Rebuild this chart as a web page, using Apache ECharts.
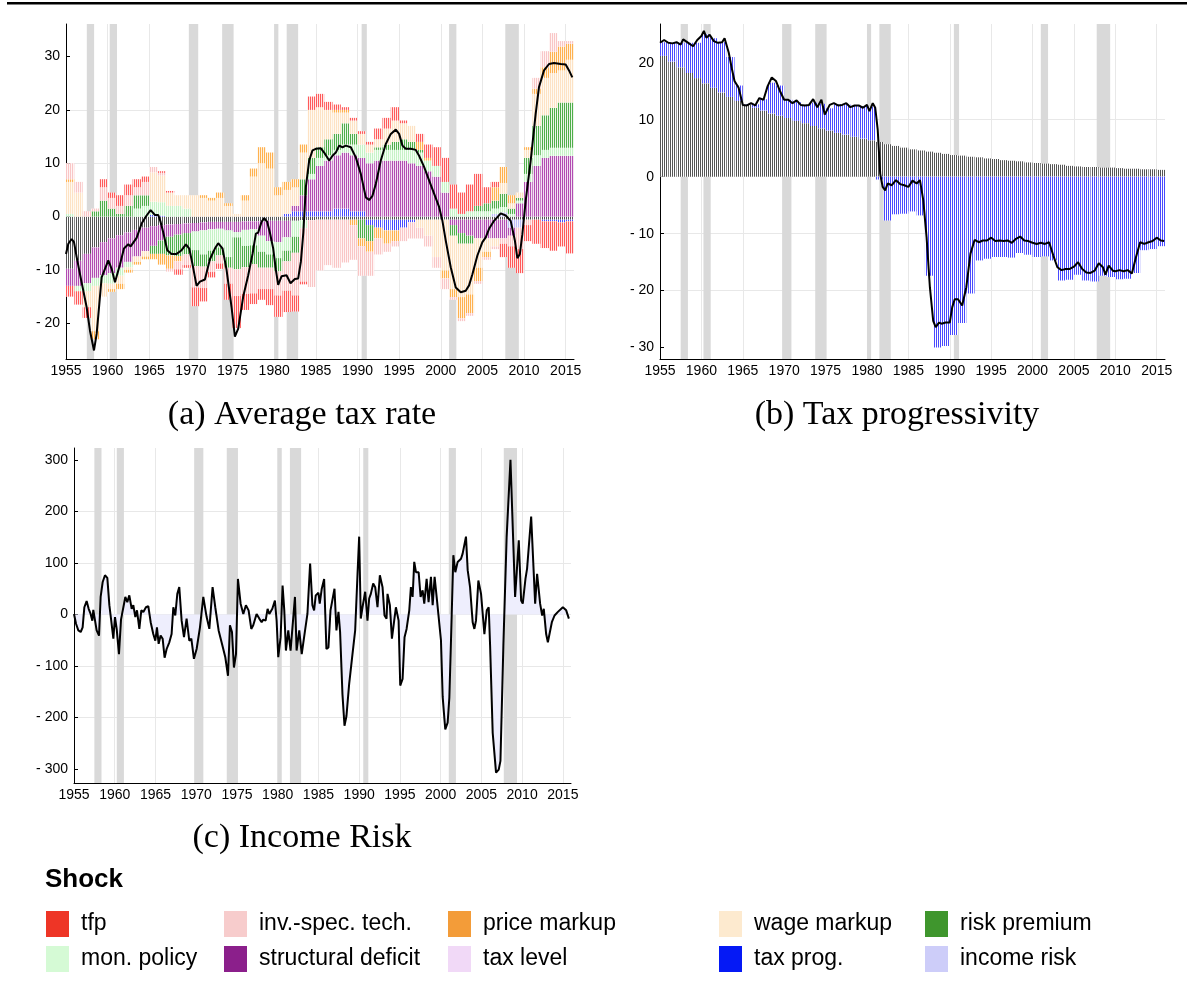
<!DOCTYPE html>
<html>
<head>
<meta charset="utf-8">
<script src="https://cdn.jsdelivr.net/npm/echarts@6/dist/echarts.min.js"></script>
<style>
  html, body { margin: 0; padding: 0; background: #fff; }
  #main { width: 1187px; height: 994px; }
</style>
</head>
<body>
<div id="main"></div>
<script>
// annual bars (one per year, 1955..2015)
var barYears = [1955, 1956, 1957, 1958, 1959, 1960, 1961, 1962, 1963, 1964,
  1965, 1966, 1967, 1968, 1969, 1970, 1971, 1972, 1973, 1974,
  1975, 1976, 1977, 1978, 1979, 1980, 1981, 1982, 1983, 1984,
  1985, 1986, 1987, 1988, 1989, 1990, 1991, 1992, 1993, 1994,
  1995, 1996, 1997, 1998, 1999, 2000, 2001, 2002, 2003, 2004,
  2005, 2006, 2007, 2008, 2009, 2010, 2011, 2012, 2013, 2014, 2015];

// NBER recessions (shaded)
var recessions = [[1957.5, 1958.375], [1960.25, 1961.125], [1969.75, 1970.875],
  [1973.75, 1975.125], [1980.0, 1980.5], [1981.5, 1982.875], [1990.5, 1991.125],
  [2001.0, 2001.875], [2007.75, 2009.375]];

var xTicks = [1955, 1960, 1965, 1970, 1975, 1980, 1985, 1990, 1995, 2000, 2005, 2010, 2015];

// ---------- (a) Average tax rate ----------
var rateYears = [1955.0, 1955.28, 1955.68, 1955.96, 1956.28, 1956.68, 1957.08, 1957.48, 1957.88, 1958.36,
  1958.68, 1959.0, 1959.28, 1959.68, 1960.08, 1960.48, 1960.88, 1961.0, 1961.48, 1961.96,
  1962.48, 1962.76, 1963.48, 1964.08, 1964.68, 1965.16, 1965.68, 1966.08, 1966.36, 1966.68,
  1967.16, 1967.68, 1968.28, 1968.88, 1969.4, 1969.8, 1970.2, 1970.68, 1971.08, 1971.68,
  1972.28, 1972.88, 1973.28, 1973.8, 1974.28, 1974.88, 1975.28, 1975.68, 1976.28, 1976.88,
  1977.4, 1977.8, 1978.08, 1978.48, 1978.8, 1979.16, 1979.48, 1979.88, 1980.2, 1980.48,
  1980.88, 1981.48, 1981.96, 1982.48, 1982.88, 1983.2, 1983.5, 1983.8, 1984.2, 1984.6,
  1985.0, 1985.6, 1986.0, 1986.6, 1987.0, 1987.4, 1987.8, 1988.2, 1988.6, 1989.2,
  1989.8, 1990.4, 1991.0, 1991.4, 1991.8, 1992.2, 1992.8, 1993.4, 1994.0, 1994.6,
  1995.0, 1995.4, 1995.8, 1996.4, 1997.0, 1997.4, 1998.0, 1998.6, 1999.2, 1999.8,
  2000.2, 2000.6, 2001.2, 2001.8, 2002.4, 2003.0, 2003.4, 2003.8, 2004.4, 2005.0,
  2005.4, 2005.8, 2006.4, 2007.2, 2007.8, 2008.4, 2008.9, 2009.2, 2009.5, 2009.8,
  2010.2, 2010.8, 2011.4, 2011.8, 2012.4, 2013.0, 2013.6, 2014.4, 2015.0, 2015.4, 2015.8];
var rateTotal = [-7.0, -5.1, -4.2, -4.8, -7.6, -10.8, -13.9, -17.0, -21.4, -25.1,
  -22.0, -16.4, -11.4, -9.8, -8.2, -9.8, -12.3, -12.5, -9.0, -6.0,
  -5.2, -5.6, -4.0, -1.3, 0.2, 1.2, 0.3, 0.3, -1.0, -3.0,
  -6.3, -7.0, -7.0, -6.3, -5.2, -6.0, -9.0, -13.0, -12.2, -11.8,
  -8.0, -6.0, -5.0, -6.0, -10.0, -17.0, -22.5, -21.0, -15.0, -11.0,
  -7.0, -3.2, -3.0, -1.0, -0.3, -1.0, -3.0, -6.0, -10.0, -12.8,
  -11.2, -11.0, -12.5, -11.7, -11.6, -8.5, -3.0, 5.5, 10.5, 12.4,
  12.7, 12.8, 12.0, 10.5, 11.4, 12.0, 13.3, 13.0, 13.3, 13.0,
  11.1, 8.0, 3.6, 3.1, 3.9, 6.1, 10.5, 13.6, 15.5, 16.3,
  15.5, 13.3, 12.7, 12.7, 12.5, 11.4, 9.3, 6.8, 4.3, 1.8,
  -0.8, -4.5, -9.5, -13.3, -14.2, -13.9, -12.9, -10.8, -7.3, -4.8,
  -3.9, -2.3, -0.8, 0.6, 0.2, -0.8, -4.5, -7.8, -7.0, -3.3,
  3.0, 10.5, 19.3, 24.3, 27.4, 28.6, 28.8, 28.6, 28.5, 27.4, 26.1];

var rateInit = [-9.8, -8.3, -7.0, -5.8, -4.8, -4.1, -3.5, -3.0, -2.5, -2.1,
  -1.8, -1.6, -1.5, -1.4, -1.3, -1.2, -1.1, -1.0, -1.0, -1.0,
  -1.0, -0.9, -0.9, -0.9, -0.8, -0.8, -0.8, -0.8, -0.7, -0.7,
  -0.6, -0.6, -0.6, -0.6, -0.6, -0.6, -0.6, -0.6, -0.6, -0.6,
  -0.6, -0.6, -0.6, -0.6, -0.6, -0.6, -0.6, -0.6, -0.6, -0.6,
  -0.6, -0.6, -0.6, -0.6, -0.6, -0.6, -0.6, -0.6, -0.6, -0.6, -0.6];
var rateIncomeRisk = [0, 0, 0, 0, 0, 0, 0, 0, 0, 0,
  0, 0, 0, 0, 0, 0, 0, 0, 0, 0,
  0, 0, 0, 0, 0, 0, 0, 0, 0, 0,
  0, 0, 0, 0, 0, 0, 0, 0, 0, 0,
  0, 0, 0, 0, 0, 0, 0, 0, 0, 0,
  0, 0.5, 0.8, -1.5, -1.5, 0, 0, 0, 0, 0, 0];
var rateTaxProg = [0, 0, 0, 0, 0, 0, 0, 0, 0, 0,
  0.3, 0.2, 0, 0, 0, 0, 0, 0, 0, 0,
  0, 0, 0, 0, 0, 0, 0.5, 1.0, 1.0, 1.0,
  1.0, 1.0, 1.5, 1.5, 1.0, 1.0, -1.0, -1.5, -2.0, -2.0,
  -1.5, -0.5, 0, 0, 0, 0, 0, 0, 0, 0,
  0, 0, 0, 0, 0, 0, 0, -0.3, -0.3, -0.5, -0.3];
var rateDeficit = [-3.2, -4.7, -5.5, -5.7, -6.2, -6.5, -6.1, -5.5, -5.0, -4.4,
  -3.7, -2.9, -2.3, -2.0, -1.8, -1.6, -1.5, -1.4, -1.3, -1.6,
  -1.9, -1.6, -1.5, -2.7, -3.8, -4.0, -3.1, 1.0, 3.0, 6.0,
  8.5, 9.5, 10.0, 10.5, 10.5, 10.0, 10.0, 10.5, 10.5, 10.5,
  10.5, 10.0, 9.5, 8.5, 7.5, 4.5, -1.0, -2.5, -3.0, -3.5,
  -3.5, -3.5, -3.5, -1.5, 2.5, 6.5, 9.5, 11.0, 11.4, 11.4, 11.4];
var rateMonPolicy = [0.5, -1.0, -1.5, -1.5, -1.5, -2.0, -1.5, -1.0, 1.5, 2.0,
  2.5, 2.5, 2.0, 2.0, 1.5, -3.5, -4.5, -4.0, -3.5, -5.0,
  -1.0, -3.0, -3.0, -3.0, -2.5, -3.0, -2.5, -3.0, -1.5, 1.0,
  1.5, 1.0, 1.0, 1.5, 2.0, 2.5, 2.0, 2.0, 2.0, 2.0,
  2.0, 2.5, 2.5, 2.0, 2.0, 2.0, 1.5, 0.5, 1.0, 1.0,
  1.0, 1.0, 1.0, 0.5, 0.5, 1.5, 2.0, 1.5, 1.5, 1.5, 1.5];
var rateRiskPremium = [0, 0, 0, 1.0, 3.0, 1.5, 0.5, 2.0, 2.5, 2.0,
  -1.5, -2.5, -3.5, -4.0, -4.0, -3.0, -2.3, -2.0, -1.5, -2.0,
  -6.0, -4.0, -3.5, -3.0, -2.5, -2.5, -2.0, -3.0, 3.0, 3.0,
  2.0, 3.0, 3.0, 4.0, 2.0, -3.5, -3.0, 0.5, 1.0, 1.5,
  2.0, 1.5, 0.5, 0, 0, 0, -2.0, -2.0, -1.5, 1.0,
  1.5, 1.5, 2.5, 1.0, 0.5, 3.0, 5.5, 6.5, 7.5, 8.5, 8.5];
var rateWageMarkup = [6.0, 4.5, -3.0, -8.5, -2.5, -1.0, -1.5, -0.5, -1.0, -1.0,
  5.5, 5.0, 2.5, 2.0, 2.5, 4.0, 3.5, 3.0, 3.5, 2.0,
  0.5, 3.0, 7.5, 10.0, 9.0, 4.0, 4.5, 3.5, 5.0, 9.0,
  7.5, 5.5, 4.0, 2.0, 2.5, 2.0, 1.5, 1.5, 3.0, 4.0,
  3.0, 3.0, -1.5, -3.0, -7.0, -9.5, -10.0, -10.0, -9.5, -5.5,
  -2.5, -1.5, 2.0, 1.0, 1.0, 1.5, 6.0, 7.0, 6.5, 6.0, 8.0];
var ratePriceMarkup = [0.5, 0, 0, -1.5, 0, -0.5, -1.0, -0.5, -0.5, -0.5,
  -1.0, -2.0, -2.5, -1.0, 0, 0, 0.5, 0.5, 1.0, 0.5,
  0, 1.0, 1.5, 3.0, 3.0, 1.5, 1.5, 1.5, 1.5, 0,
  0, 0, 0.5, 0.5, -1.0, -1.5, -2.0, -2.0, -2.5, -2.0,
  0, 0, 1.5, 0.5, 0, -1.5, -1.5, -4.0, -3.5, -2.5,
  -1.0, 2.5, 3.0, 1.5, 0, 0.5, 1.0, 2.0, 4.0, 4.5, 3.0];
var rateInvTech = [3.0, 2.0, 1.0, 0.5, 2.5, 2.0, 1.5, 2.0, 1.5, 2.5,
  1.0, 0.5, -0.5, -1.5, -2.0, -4.0, -4.0, -2.0, -1.5, -3.0,
  -5.0, -5.0, -5.5, -4.0, -4.0, -4.5, -5.5, -8.0, -10.0, -12.5,
  -9.5, -8.5, -9.0, -8.0, -6.5, -5.5, -4.5, -3.0, -1.5, -1.0,
  -2.5, -3.0, -2.0, -2.0, -2.0, -2.0, -0.5, -0.5, -0.5, -0.5,
  -0.5, -0.5, -1.0, -2.0, -4.0, -1.0, 2.0, 3.0, 3.5, 1.0, 0.5];
var rateTfp = [-2.0, -2.5, -2.0, 0, 1.5, 1.0, 2.0, 2.0, 1.5, 1.0,
  0, 0.3, 0.3, -1.0, -0.5, -3.5, -2.5, -1.0, -1.0, -3.0,
  -6.0, -3.0, -2.0, -2.0, -3.0, -4.0, -4.0, -3.0, -0.5, 2.5,
  2.5, 1.5, 1.0, 0.5, 0.5, 0.5, 0.5, 2.0, 2.0, 2.5,
  0.5, 0, 1.5, 2.5, 3.5, 4.5, 4.5, 4.0, 5.0, 6.0,
  3.0, 1.0, -2.5, -4.0, -4.5, -3.0, -4.5, -5.0, -5.5, -4.5, -6.0];

// ---------- (b) Tax progressivity ----------
var progYears = [1955.0, 1955.5, 1956.0, 1956.5, 1957.0, 1957.5, 1957.8, 1958.5, 1959.0, 1959.5,
  1960.0, 1960.3, 1960.6, 1961.0, 1961.5, 1962.0, 1962.5, 1962.8, 1963.3, 1963.7,
  1964.0, 1964.5, 1965.0, 1965.5, 1966.0, 1966.5, 1967.0, 1967.5, 1968.0, 1968.5,
  1969.0, 1969.5, 1970.0, 1970.5, 1971.0, 1971.5, 1972.0, 1972.5, 1973.0, 1973.5,
  1974.0, 1974.5, 1974.9, 1975.5, 1976.0, 1976.5, 1977.0, 1977.5, 1978.0, 1978.5,
  1979.0, 1979.5, 1980.0, 1980.3, 1980.7, 1981.0, 1981.3, 1981.6, 1981.9, 1982.2,
  1982.5, 1983.0, 1983.5, 1984.0, 1984.5, 1985.0, 1985.5, 1986.0, 1986.4, 1986.8,
  1987.2, 1987.6, 1988.0, 1988.3, 1988.7, 1989.0, 1989.5, 1990.0, 1990.3, 1990.6,
  1991.0, 1991.5, 1992.0, 1992.5, 1993.0, 1993.5, 1994.0, 1994.5, 1995.0, 1995.5,
  1996.0, 1996.5, 1997.0, 1997.5, 1998.0, 1998.5, 1999.0, 1999.5, 2000.0, 2000.5,
  2001.0, 2001.5, 2002.0, 2002.5, 2003.0, 2003.5, 2004.0, 2004.5, 2005.0, 2005.5,
  2006.0, 2006.5, 2007.0, 2007.5, 2008.0, 2008.5, 2008.8, 2009.2, 2009.7, 2010.0,
  2010.5, 2011.0, 2011.5, 2012.0, 2012.5, 2013.0, 2013.5, 2014.0, 2014.5, 2015.0,
  2015.5, 2015.9];
var progTotal = [23.5, 24.0, 23.5, 23.4, 23.6, 23.2, 24.1, 23.4, 22.9, 24.0,
  24.7, 25.6, 24.4, 24.9, 23.8, 23.5, 23.6, 24.3, 21.8, 18.8,
  16.8, 15.6, 12.6, 12.5, 12.9, 12.5, 13.8, 13.5, 15.9, 17.4,
  16.8, 15.0, 13.5, 13.5, 12.9, 13.4, 12.6, 12.5, 12.6, 13.6,
  12.2, 13.5, 10.9, 12.6, 12.9, 12.5, 12.6, 12.9, 12.2, 12.5,
  12.5, 12.1, 12.6, 11.5, 12.9, 12.1, 8.2, 0.5, -1.8, -2.4,
  -1.2, -1.5, -0.6, -1.3, -1.5, -1.8, -0.7, -1.2, -0.6, -4.1,
  -10.6, -19.4, -25.3, -26.4, -25.6, -25.8, -25.6, -25.6, -22.9, -21.5,
  -21.5, -22.6, -19.4, -13.5, -11.1, -11.5, -11.2, -11.2, -10.7, -11.3,
  -11.2, -11.3, -11.2, -11.6, -10.9, -10.5, -11.2, -11.3, -11.6, -11.8,
  -11.6, -11.8, -11.5, -13.8, -15.9, -16.4, -16.2, -16.2, -15.8, -15.0,
  -16.2, -16.8, -16.9, -16.5, -15.2, -15.9, -17.2, -15.6, -16.5, -16.6,
  -16.4, -16.6, -16.4, -17.0, -14.1, -11.5, -11.8, -11.5, -11.3, -10.7,
  -11.2, -11.3];
var progInit = [21.2, 20.2, 19.2, 18.2, 17.3, 16.4, 15.6, 14.8, 14.0, 13.3,
  12.6, 12.1, 11.6, 11.1, 10.7, 10.3, 9.8, 9.4, 8.9, 8.5,
  8.1, 7.7, 7.4, 7.0, 6.7, 6.4, 6.1, 5.7, 5.4, 5.1,
  4.8, 4.6, 4.4, 4.2, 4.0, 3.8, 3.7, 3.5, 3.4, 3.2,
  3.1, 2.9, 2.8, 2.7, 2.5, 2.4, 2.3, 2.2, 2.1, 1.9,
  1.8, 1.7, 1.7, 1.6, 1.6, 1.5, 1.4, 1.4, 1.3, 1.3, 1.2];
var progTaxProg = [2.4, 3.3, 4.3, 5.3, 6.2, 8.6, 8.7, 8.8, 7.0, 2.7,
  0.1, 0.6, 2.0, 5.4, 5.3, 3.2, 3.3, 3.2, 4.1, 4.3,
  3.9, 5.0, 5.3, 5.4, 5.7, 5.9, -0.5, -7.7, -6.6, -6.5,
  -6.1, -6.8, -17.4, -30.0, -29.7, -27.8, -25.7, -20.5, -14.7, -14.4,
  -14.1, -14.1, -14.2, -13.4, -13.7, -14.1, -14.0, -14.7, -18.2, -18.1,
  -17.2, -18.2, -18.4, -17.4, -17.6, -18.0, -17.9, -16.9, -12.9, -12.7, -12.2];

// ---------- (c) Income risk ----------
var riskYears = [1955.00, 1955.25, 1955.53, 1955.82, 1956.06, 1956.27, 1956.55, 1956.80, 1957.04, 1957.25,
  1957.37, 1957.58, 1957.78, 1958.07, 1958.27, 1958.52, 1958.80, 1959.09, 1959.34, 1959.54,
  1959.83, 1960.03, 1960.24, 1960.52, 1960.77, 1960.97, 1961.30, 1961.54, 1961.79, 1962.08,
  1962.28, 1962.53, 1962.73, 1963.02, 1963.26, 1963.51, 1963.83, 1964.12, 1964.41, 1964.73,
  1964.98, 1965.18, 1965.39, 1965.63, 1965.88, 1966.12, 1966.37, 1966.70, 1966.98, 1967.19,
  1967.43, 1967.68, 1967.92, 1968.21, 1968.50, 1968.82, 1969.15, 1969.40, 1969.72, 1970.05,
  1970.46, 1970.87, 1971.28, 1971.61, 1972.01, 1972.34, 1972.75, 1973.16, 1973.57, 1973.90,
  1974.14, 1974.39, 1974.63, 1974.88, 1975.12, 1975.45, 1975.78, 1976.10, 1976.43, 1976.76,
  1977.00, 1977.41, 1977.74, 1978.03, 1978.23, 1978.52, 1978.76, 1978.97, 1979.34, 1979.66,
  1979.87, 1980.07, 1980.36, 1980.60, 1980.81, 1981.01, 1981.30, 1981.58, 1982.12, 1982.32,
  1982.65, 1982.95, 1983.36, 1983.65, 1983.98, 1984.26, 1984.47, 1984.67, 1985.00, 1985.16,
  1985.41, 1985.70, 1985.98, 1986.23, 1986.48, 1986.72, 1986.97, 1987.21, 1987.46, 1987.66,
  1987.95, 1988.20, 1988.44, 1988.77, 1989.18, 1989.51, 1989.80, 1990.00, 1990.20, 1990.41,
  1990.74, 1991.02, 1991.23, 1991.43, 1991.72, 1991.97, 1992.25, 1992.54, 1992.87, 1993.11,
  1993.36, 1993.48, 1993.77, 1994.02, 1994.30, 1994.51, 1994.84, 1995.04, 1995.33, 1995.57,
  1995.82, 1996.15, 1996.35, 1996.56, 1996.76, 1996.97, 1997.30, 1997.54, 1997.79, 1997.99,
  1998.28, 1998.52, 1998.81, 1999.02, 1999.26, 1999.51, 1999.75, 2000.04, 2000.25, 2000.45,
  2000.57, 2000.86, 2001.07, 2001.27, 2001.56, 2001.80, 2002.09, 2002.50, 2002.70, 2003.11,
  2003.32, 2003.61, 2003.93, 2004.14, 2004.34, 2004.63, 2004.96, 2005.37, 2005.66, 2005.90,
  2006.07, 2006.39, 2006.80, 2007.13, 2007.34, 2007.70, 2008.10, 2008.57, 2009.14, 2009.34,
  2009.59, 2009.88, 2010.08, 2010.41, 2010.61, 2011.11, 2011.60, 2011.84, 2012.21, 2012.46,
  2012.66, 2012.95, 2013.16, 2013.36, 2013.65, 2013.98, 2014.39, 2015.00, 2015.41, 2015.74];
var riskTotal = [1, -18, -31, -34, -25, 14, 26, 11, 1, -12,
  9, 8, -31, -41, 34, 63, 76, 71, 18, -8,
  -47, -5, -28, -77, -10, -12, 34, 24, 37, 11,
  18, -5, 8, -28, 8, 5, 14, 16, -15, -38,
  -51, -25, -57, -41, -47, -84, -67, -54, -38, 14,
  -2, 40, 53, -12, -44, -8, -51, -47, -86, -67,
  -25, 34, -5, -28, 53, 14, -31, -57, -83, -119,
  -21, -34, -103, -77, 69, 21, 1, 18, 8, -28,
  -21, 1, -8, -15, -10, -12, 11, 1, 11, 27,
  -12, -83, -44, 56, 8, -70, -31, -70, 34, -70,
  -31, -77, -31, 1, 99, 18, 8, 37, 42, 21,
  50, 69, -67, -64, 8, 11, 50, -31, 5, -34,
  -155, -216, -197, -135, -77, -31, 79, 151, -8, 14,
  44, -12, 31, 40, 60, 53, 14, 76, 53, -2,
  -8, 40, 18, -47, -12, 14, -12, -138, -125, -44,
  -28, 8, 53, 34, 102, 82, 82, 34, 47, 21,
  69, 24, 73, 18, 73, 34, 34, -50, -160, -200,
  -223, -210, -161, -51, 115, 82, 102, 108, 118, 151,
  86, 53, -15, -28, -12, 66, 40, -38, 8, 14,
  -60, -230, -307, -301, -284, -60, 150, 300, 34, 82,
  144, 27, 21, 69, 89, 190, 21, 79, 21, -2,
  11, -38, -54, -51, -15, -2, 5, 14, 8, -8];

// ---------- colours: [fill between stripes, stripe] ----------
var shockColors = {
  init:    ['#ffffff', '#555555'],
  income:  ['#f5f5ff', '#bcbcf6'],
  prog:    ['#ffffff', '#4a4aff'],
  deficit: ['#f2e0f2', '#b24cb2'],
  monpol:  ['#f5fff5', '#c6f2c6'],
  riskp:   ['#eaf6e8', '#4fae4a'],
  wage:    ['#fffaf2', '#fde2c4'],
  price:   ['#fff2e0', '#ffb14f'],
  inv:     ['#fff4f4', '#f9c6c6'],
  tfp:     ['#ffe6e6', '#ff5a5a']
};

var legendItems = [
  ['tfp', '#ee3526'], ['inv.-spec. tech.', '#f7cccc'], ['price markup', '#f39c39'],
  ['wage markup', '#fdeacf'], ['risk premium', '#3f962d'],
  ['mon. policy', '#d5fad5'], ['structural deficit', '#8b1f8b'], ['tax level', '#f1d9f7'],
  ['tax prog.', '#0519f5'], ['income risk', '#cdcdf9']
];

var gridBox = [
  { left: 66, top: 24, width: 508, height: 335 },
  { left: 660, top: 24, width: 505, height: 335 },
  { left: 74, top: 448, width: 497, height: 335 }
];
var yRange = [[-26.7, 36.1], [-32.0, 26.8], [-327, 323]];
var yTicks = [[-20, -10, 0, 10, 20, 30], [-30, -20, -10, 0, 10, 20], [-300, -200, -100, 0, 100, 200, 300]];

function fmtY(v) {
  var r = Math.round(v);
  if (Math.abs(v - r) > 1e-6 || (Math.abs(r) % 10) !== 0) return '';
  return r < 0 ? '- ' + (-r) : String(r);
}

function bandArea() {
  return {
    silent: true,
    itemStyle: { color: '#d9d9d9' },
    data: recessions.map(function (r) { return [{ xAxis: r[0] }, { xAxis: r[1] }]; })
  };
}

// bars sit on a hidden category axis (one band per year) laid over the value axis
function barSeries(name, values, g, key) {
  var c = shockColors[key];
  return {
    type: 'bar', name: name, xAxisIndex: 3 + g, yAxisIndex: g, stack: 'st' + g,
    barCategoryGap: '0%',
    data: values,
    itemStyle: {
      color: c[0],
      decal: { symbol: 'rect', symbolSize: 1, color: c[1], dashArrayX: [1, 1], dashArrayY: [1, 0] }
    },
    silent: true, z: 2
  };
}

function lineSeries(xs, ys, g, area) {
  var s = {
    type: 'line', xAxisIndex: g, yAxisIndex: g, symbol: 'none', silent: true, z: 5,
    data: xs.map(function (x, i) { return [x, ys[i]]; }),
    lineStyle: { color: '#000', width: 2 },
    markArea: bandArea()
  };
  if (area) s.areaStyle = { color: '#eeeefd', opacity: 1 };
  return s;
}

var xAxes = [0, 1, 2].map(function (g) {
  return {
    type: 'value', gridIndex: g, min: 1955, max: 2016, interval: 5,
    axisLine: { onZero: false, lineStyle: { color: '#000', width: 1 } },
    axisTick: { show: false },
    axisLabel: {
      color: '#000', fontSize: 14, fontFamily: 'Liberation Sans', margin: 5,
      formatter: function (v) { return xTicks.indexOf(v) >= 0 ? String(v) : ''; }
    },
    splitLine: { show: true, showMinLine: false, showMaxLine: false, lineStyle: { color: '#e8e8e8', width: 1 } }
  };
});
[0, 1, 2].forEach(function (g) {
  xAxes.push({
    type: 'category', gridIndex: g, data: barYears, boundaryGap: true, show: false,
    axisLine: { onZero: false }
  });
});
var yAxes = [0, 1, 2].map(function (g) {
  return {
    type: 'value', gridIndex: g, min: yRange[g][0], max: yRange[g][1], splitNumber: 6,
    axisLine: { show: true, onZero: false, lineStyle: { color: '#000', width: 1 } },
    axisTick: { show: true, inside: true, length: 4, customValues: yTicks[g], lineStyle: { color: '#000' } },
    axisLabel: { color: '#000', fontSize: 14, fontFamily: 'Liberation Sans', margin: 6, formatter: fmtY },
    splitLine: { show: true, showMinLine: false, showMaxLine: false, lineStyle: { color: '#e8e8e8', width: 1 } }
  };
});

var series = [
  barSeries('initial', rateInit, 0, 'init'),
  barSeries('income risk', rateIncomeRisk, 0, 'income'),
  barSeries('tax prog.', rateTaxProg, 0, 'prog'),
  barSeries('structural deficit', rateDeficit, 0, 'deficit'),
  barSeries('mon. policy', rateMonPolicy, 0, 'monpol'),
  barSeries('risk premium', rateRiskPremium, 0, 'riskp'),
  barSeries('wage markup', rateWageMarkup, 0, 'wage'),
  barSeries('price markup', ratePriceMarkup, 0, 'price'),
  barSeries('inv.-spec. tech.', rateInvTech, 0, 'inv'),
  barSeries('tfp', rateTfp, 0, 'tfp'),
  lineSeries(rateYears, rateTotal, 0),

  barSeries('initial', progInit, 1, 'init'),
  barSeries('tax prog.', progTaxProg, 1, 'prog'),
  lineSeries(progYears, progTotal, 1),

  lineSeries(riskYears, riskTotal, 2, true)
];

// captions, legend, top rule
var capFont = '34px "Liberation Serif"';
var graphics = [
  { type: 'rect', shape: { x: 7, y: 2, width: 1180, height: 2.5 }, style: { fill: '#000' } },
  { type: 'text', x: 302, y: 415, style: { text: '(a) Average tax rate', font: capFont, fill: '#000', align: 'center', verticalAlign: 'middle', textAlign: 'center', textVerticalAlign: 'middle' } },
  { type: 'text', x: 897, y: 415, style: { text: '(b) Tax progressivity', font: capFont, fill: '#000', align: 'center', verticalAlign: 'middle', textAlign: 'center', textVerticalAlign: 'middle' } },
  { type: 'text', x: 302, y: 838, style: { text: '(c) Income Risk', font: capFont, fill: '#000', align: 'center', verticalAlign: 'middle', textAlign: 'center', textVerticalAlign: 'middle' } },
  { type: 'text', x: 45, y: 880, style: { text: 'Shock', font: 'bold 26px "Liberation Sans"', fill: '#000', align: 'left', verticalAlign: 'middle', textAlign: 'left', textVerticalAlign: 'middle' } }
];
var colX = [46, 224, 448, 719, 925];
var rowY = [911, 946];
legendItems.forEach(function (it, i) {
  var col = i % 5, row = Math.floor(i / 5);
  graphics.push({ type: 'rect', shape: { x: colX[col], y: rowY[row], width: 23, height: 26 }, style: { fill: it[1] } });
  graphics.push({ type: 'text', x: colX[col] + 35, y: rowY[row] + 13, style: { text: it[0], font: '23px "Liberation Sans"', fill: '#000', align: 'left', verticalAlign: 'middle', textAlign: 'left', textVerticalAlign: 'middle' } });
});

var chart = echarts.init(document.getElementById('main'));
chart.setOption({
  animation: false,
  backgroundColor: '#fff',
  grid: gridBox,
  xAxis: xAxes,
  yAxis: yAxes,
  series: series,
  graphic: { elements: graphics }
});
</script>
</body>
</html>
